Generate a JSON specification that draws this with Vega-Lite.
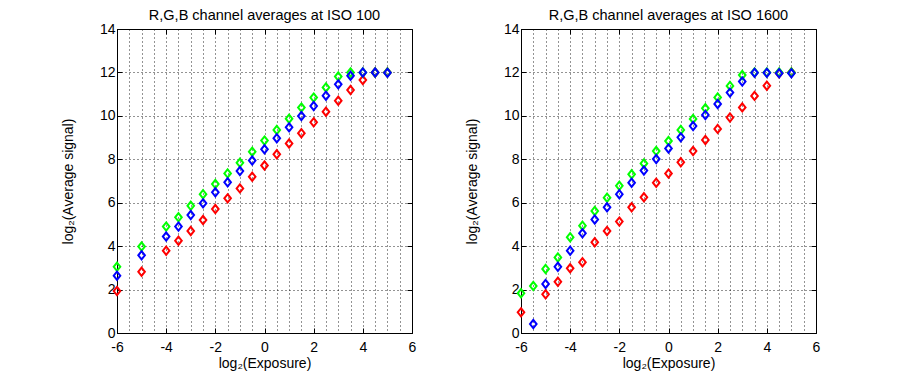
{
  "$schema": "https://vega.github.io/schema/vega-lite/v6.json",
  "background": "white",
  "padding": {"left": 60, "top": 7, "right": 5, "bottom": 5},
  "config": {
    "font": "Liberation Sans",
    "view": {"stroke": "black", "strokeWidth": 1},
    "axis": {"labelFont": "Liberation Sans", "labelFontSize": 14, "labelColor": "black", "titleFont": "Liberation Sans", "titleFontSize": 14, "titleFontWeight": "normal", "titleColor": "black", "domainColor": "black", "tickColor": "black", "gridColor": "black", "gridOpacity": 0.85, "labelOverlap": false, "labelFlush": false},
    "title": {"font": "Liberation Sans", "fontSize": 14.5, "fontWeight": "normal", "color": "black", "offset": -1}
  },
  "data": {"values": [
    {"p":"100","c":"R","x":-6,"y":1.93},{"p":"100","c":"R","x":-5,"y":2.82},{"p":"100","c":"R","x":-4,"y":3.79},{"p":"100","c":"R","x":-3.5,"y":4.25},{"p":"100","c":"R","x":-3,"y":4.70},{"p":"100","c":"R","x":-2.5,"y":5.20},{"p":"100","c":"R","x":-2,"y":5.71},{"p":"100","c":"R","x":-1.5,"y":6.20},{"p":"100","c":"R","x":-1,"y":6.66},{"p":"100","c":"R","x":-0.5,"y":7.20},{"p":"100","c":"R","x":0,"y":7.71},{"p":"100","c":"R","x":0.5,"y":8.23},{"p":"100","c":"R","x":1,"y":8.73},{"p":"100","c":"R","x":1.5,"y":9.20},{"p":"100","c":"R","x":2,"y":9.70},{"p":"100","c":"R","x":2.5,"y":10.19},{"p":"100","c":"R","x":3,"y":10.70},{"p":"100","c":"R","x":3.5,"y":11.19},{"p":"100","c":"R","x":4,"y":11.65},{"p":"100","c":"R","x":4.5,"y":12.0},{"p":"100","c":"R","x":5,"y":12.0},
    {"p":"100","c":"G","x":-6,"y":3.05},{"p":"100","c":"G","x":-5,"y":3.98},{"p":"100","c":"G","x":-4,"y":4.90},{"p":"100","c":"G","x":-3.5,"y":5.33},{"p":"100","c":"G","x":-3,"y":5.86},{"p":"100","c":"G","x":-2.5,"y":6.39},{"p":"100","c":"G","x":-2,"y":6.86},{"p":"100","c":"G","x":-1.5,"y":7.35},{"p":"100","c":"G","x":-1,"y":7.84},{"p":"100","c":"G","x":-0.5,"y":8.35},{"p":"100","c":"G","x":0,"y":8.86},{"p":"100","c":"G","x":0.5,"y":9.35},{"p":"100","c":"G","x":1,"y":9.87},{"p":"100","c":"G","x":1.5,"y":10.38},{"p":"100","c":"G","x":2,"y":10.84},{"p":"100","c":"G","x":2.5,"y":11.31},{"p":"100","c":"G","x":3,"y":11.81},{"p":"100","c":"G","x":3.5,"y":12.0},{"p":"100","c":"G","x":4,"y":12.0},{"p":"100","c":"G","x":4.5,"y":12.0},{"p":"100","c":"G","x":5,"y":12.0},
    {"p":"100","c":"B","x":-6,"y":2.64},{"p":"100","c":"B","x":-5,"y":3.58},{"p":"100","c":"B","x":-4,"y":4.44},{"p":"100","c":"B","x":-3.5,"y":4.90},{"p":"100","c":"B","x":-3,"y":5.43},{"p":"100","c":"B","x":-2.5,"y":5.97},{"p":"100","c":"B","x":-2,"y":6.48},{"p":"100","c":"B","x":-1.5,"y":6.94},{"p":"100","c":"B","x":-1,"y":7.46},{"p":"100","c":"B","x":-0.5,"y":7.94},{"p":"100","c":"B","x":0,"y":8.46},{"p":"100","c":"B","x":0.5,"y":8.97},{"p":"100","c":"B","x":1,"y":9.47},{"p":"100","c":"B","x":1.5,"y":9.99},{"p":"100","c":"B","x":2,"y":10.45},{"p":"100","c":"B","x":2.5,"y":10.93},{"p":"100","c":"B","x":3,"y":11.45},{"p":"100","c":"B","x":3.5,"y":11.85},{"p":"100","c":"B","x":4,"y":12.0},{"p":"100","c":"B","x":4.5,"y":12.0},{"p":"100","c":"B","x":5,"y":11.98},
    {"p":"1600","c":"R","x":-6,"y":0.95},{"p":"1600","c":"R","x":-5,"y":1.78},{"p":"1600","c":"R","x":-4.5,"y":2.36},{"p":"1600","c":"R","x":-4,"y":2.98},{"p":"1600","c":"R","x":-3.5,"y":3.26},{"p":"1600","c":"R","x":-3,"y":4.18},{"p":"1600","c":"R","x":-2.5,"y":4.70},{"p":"1600","c":"R","x":-2,"y":5.13},{"p":"1600","c":"R","x":-1.5,"y":5.79},{"p":"1600","c":"R","x":-1,"y":6.25},{"p":"1600","c":"R","x":-0.5,"y":6.92},{"p":"1600","c":"R","x":0,"y":7.34},{"p":"1600","c":"R","x":0.5,"y":7.86},{"p":"1600","c":"R","x":1,"y":8.38},{"p":"1600","c":"R","x":1.5,"y":8.89},{"p":"1600","c":"R","x":2,"y":9.40},{"p":"1600","c":"R","x":2.5,"y":9.92},{"p":"1600","c":"R","x":3,"y":10.39},{"p":"1600","c":"R","x":3.5,"y":10.92},{"p":"1600","c":"R","x":4,"y":11.39},{"p":"1600","c":"R","x":4.5,"y":11.96},{"p":"1600","c":"R","x":5,"y":12.0},
    {"p":"1600","c":"G","x":-6,"y":1.83},{"p":"1600","c":"G","x":-5.5,"y":2.16},{"p":"1600","c":"G","x":-5,"y":2.95},{"p":"1600","c":"G","x":-4.5,"y":3.48},{"p":"1600","c":"G","x":-4,"y":4.41},{"p":"1600","c":"G","x":-3.5,"y":4.94},{"p":"1600","c":"G","x":-3,"y":5.62},{"p":"1600","c":"G","x":-2.5,"y":6.23},{"p":"1600","c":"G","x":-2,"y":6.78},{"p":"1600","c":"G","x":-1.5,"y":7.31},{"p":"1600","c":"G","x":-1,"y":7.81},{"p":"1600","c":"G","x":-0.5,"y":8.38},{"p":"1600","c":"G","x":0,"y":8.84},{"p":"1600","c":"G","x":0.5,"y":9.35},{"p":"1600","c":"G","x":1,"y":9.86},{"p":"1600","c":"G","x":1.5,"y":10.35},{"p":"1600","c":"G","x":2,"y":10.85},{"p":"1600","c":"G","x":2.5,"y":11.38},{"p":"1600","c":"G","x":3,"y":11.88},{"p":"1600","c":"G","x":3.5,"y":12.0},{"p":"1600","c":"G","x":4,"y":12.0},{"p":"1600","c":"G","x":4.5,"y":12.0},{"p":"1600","c":"G","x":5,"y":12.0},
    {"p":"1600","c":"B","x":-5.5,"y":0.41},{"p":"1600","c":"B","x":-5,"y":2.26},{"p":"1600","c":"B","x":-4.5,"y":3.05},{"p":"1600","c":"B","x":-4,"y":3.79},{"p":"1600","c":"B","x":-3.5,"y":4.59},{"p":"1600","c":"B","x":-3,"y":5.23},{"p":"1600","c":"B","x":-2.5,"y":5.79},{"p":"1600","c":"B","x":-2,"y":6.39},{"p":"1600","c":"B","x":-1.5,"y":6.92},{"p":"1600","c":"B","x":-1,"y":7.48},{"p":"1600","c":"B","x":-0.5,"y":8.01},{"p":"1600","c":"B","x":0,"y":8.50},{"p":"1600","c":"B","x":0.5,"y":9.01},{"p":"1600","c":"B","x":1,"y":9.53},{"p":"1600","c":"B","x":1.5,"y":10.04},{"p":"1600","c":"B","x":2,"y":10.55},{"p":"1600","c":"B","x":2.5,"y":11.07},{"p":"1600","c":"B","x":3,"y":11.58},{"p":"1600","c":"B","x":3.5,"y":11.98},{"p":"1600","c":"B","x":4,"y":11.98},{"p":"1600","c":"B","x":4.5,"y":11.96},{"p":"1600","c":"B","x":5,"y":11.96}
  ]},
  "spacing": 109,
  "bounds": "flush",
  "hconcat": [
    {
      "title": "R,G,B channel averages at ISO 100",
      "width": 295, "height": 304,
      "transform": [{"filter": "datum.p === '100'"}],
      "layer": [
        {
          "mark": {"type": "point", "shape": "M0,-1L0.8,0L0,1L-0.8,0Z", "filled": false, "size": 68, "strokeWidth": 2, "opacity": 1},
          "encoding": {
            "x": {"field": "x", "type": "quantitative", "scale": {"domain": [-6, 6], "nice": false, "zero": false},
              "axis": {"orient": "bottom", "title": "log₂(Exposure)", "values": [-6,-5.5,-5,-4.5,-4,-3.5,-3,-2.5,-2,-1.5,-1,-0.5,0,0.5,1,1.5,2,2.5,3,3.5,4,4.5,5,5.5,6], "labelExpr": "datum.value % 2 === 0 ? '' + datum.value : ''", "tickSize": -5, "tickOpacity": {"condition": {"test": "datum.value % 2 === 0", "value": 1}, "value": 0}, "grid": true, "gridDash": [1, 3], "labelPadding": 12, "titlePadding": 2}},
            "y": {"field": "y", "type": "quantitative", "scale": {"domain": [0, 14], "nice": false, "zero": false},
              "axis": {"orient": "left", "title": "log₂(Average signal)", "values": [0,2,4,6,8,10,12,14], "tickSize": -5, "grid": true, "gridDash": [1, 3], "labelPadding": 7, "titlePadding": 24}},
            "color": {"field": "c", "type": "nominal", "scale": {"domain": ["R", "G", "B"], "range": ["#ff0000", "#00ff00", "#0000ff"]}, "legend": null}
          }
        },
        {
          "mark": {"type": "point", "opacity": 0},
          "encoding": {
            "x": {"field": "x", "type": "quantitative", "axis": {"orient": "top", "title": null, "values": [-6,-4,-2,0,2,4,6], "labels": false, "grid": false, "domain": false, "tickSize": -5}},
            "y": {"field": "y", "type": "quantitative", "axis": {"orient": "right", "title": null, "values": [0,2,4,6,8,10,12,14], "labels": false, "grid": false, "domain": false, "tickSize": -5}}
          }
        }
      ],
      "resolve": {"axis": {"x": "independent", "y": "independent"}}
    },
    {
      "title": "R,G,B channel averages at ISO 1600",
      "width": 295, "height": 304,
      "transform": [{"filter": "datum.p === '1600'"}],
      "layer": [
        {
          "mark": {"type": "point", "shape": "M0,-1L0.8,0L0,1L-0.8,0Z", "filled": false, "size": 68, "strokeWidth": 2, "opacity": 1},
          "encoding": {
            "x": {"field": "x", "type": "quantitative", "scale": {"domain": [-6, 6], "nice": false, "zero": false},
              "axis": {"orient": "bottom", "title": "log₂(Exposure)", "values": [-6,-5.5,-5,-4.5,-4,-3.5,-3,-2.5,-2,-1.5,-1,-0.5,0,0.5,1,1.5,2,2.5,3,3.5,4,4.5,5,5.5,6], "labelExpr": "datum.value % 2 === 0 ? '' + datum.value : ''", "tickSize": -5, "tickOpacity": {"condition": {"test": "datum.value % 2 === 0", "value": 1}, "value": 0}, "grid": true, "gridDash": [1, 3], "labelPadding": 12, "titlePadding": 2}},
            "y": {"field": "y", "type": "quantitative", "scale": {"domain": [0, 14], "nice": false, "zero": false},
              "axis": {"orient": "left", "title": "log₂(Average signal)", "values": [0,2,4,6,8,10,12,14], "tickSize": -5, "grid": true, "gridDash": [1, 3], "labelPadding": 7, "titlePadding": 24}},
            "color": {"field": "c", "type": "nominal", "scale": {"domain": ["R", "G", "B"], "range": ["#ff0000", "#00ff00", "#0000ff"]}, "legend": null}
          }
        },
        {
          "mark": {"type": "point", "opacity": 0},
          "encoding": {
            "x": {"field": "x", "type": "quantitative", "axis": {"orient": "top", "title": null, "values": [-6,-4,-2,0,2,4,6], "labels": false, "grid": false, "domain": false, "tickSize": -5}},
            "y": {"field": "y", "type": "quantitative", "axis": {"orient": "right", "title": null, "values": [0,2,4,6,8,10,12,14], "labels": false, "grid": false, "domain": false, "tickSize": -5}}
          }
        }
      ],
      "resolve": {"axis": {"x": "independent", "y": "independent"}}
    }
  ]
}
